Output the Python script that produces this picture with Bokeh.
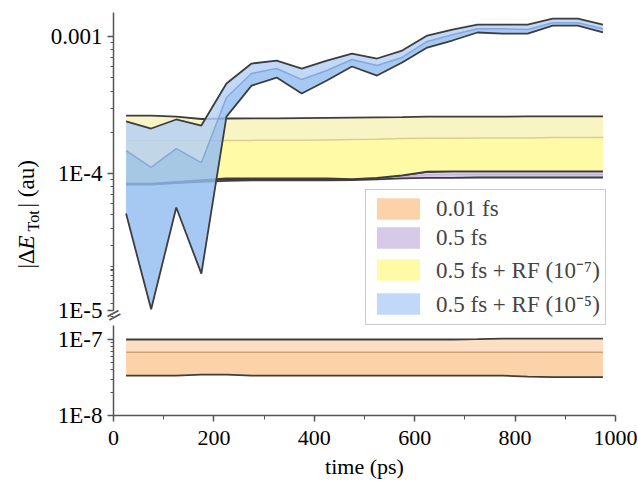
import math
from bokeh.plotting import figure
from bokeh.models import (Range1d, FixedTicker, CustomJSTickFormatter, Label,
                          Legend, LegendItem, LogAxis, LogScale)
from bokeh.embed import file_html
from bokeh.resources import INLINE

# ---------------- data ----------------
time_ps = [25, 75, 125, 175, 225, 275, 325, 375, 425, 475,
           525, 575, 625, 675, 725, 775, 825, 875, 925, 975]

# 0.01 fs
orange_upper = [1.0e-7, 1.0e-7, 1.0e-7, 1.0e-7, 1.0e-7, 1.0e-7, 1.0e-7, 1.0e-7, 1.0e-7, 1.0e-7,
                1.0e-7, 1.0e-7, 1.0e-7, 1.0e-7, 1.01e-7, 1.03e-7, 1.03e-7, 1.03e-7, 1.03e-7, 1.03e-7]
orange_mean = [6.8e-8, 6.8e-8, 6.8e-8, 6.8e-8, 6.8e-8, 6.8e-8, 6.8e-8, 6.8e-8, 6.8e-8, 6.8e-8,
               6.8e-8, 6.8e-8, 6.8e-8, 6.8e-8, 6.8e-8, 6.8e-8, 6.8e-8, 6.8e-8, 6.8e-8, 6.8e-8]
orange_lower = [3.35e-8, 3.35e-8, 3.35e-8, 3.45e-8, 3.45e-8, 3.35e-8, 3.35e-8, 3.35e-8, 3.35e-8, 3.35e-8,
                3.35e-8, 3.35e-8, 3.35e-8, 3.35e-8, 3.35e-8, 3.35e-8, 3.25e-8, 3.2e-8, 3.2e-8, 3.2e-8]

# 0.5 fs
purple_upper = [8.4e-5, 8.4e-5, 8.6e-5, 8.85e-5, 9.1e-5, 9.1e-5, 9.1e-5, 9.1e-5, 9.1e-5, 9.1e-5,
                9.3e-5, 9.7e-5, 1.03e-4, 1.035e-4, 1.035e-4, 1.035e-4, 1.035e-4, 1.035e-4, 1.035e-4, 1.035e-4]
purple_mean = [8.35e-5, 8.35e-5, 8.55e-5, 8.75e-5, 8.95e-5, 9.0e-5, 9.0e-5, 9.0e-5, 9.0e-5, 9.02e-5,
               9.15e-5, 9.45e-5, 9.8e-5, 9.85e-5, 9.85e-5, 9.85e-5, 9.85e-5, 9.85e-5, 9.85e-5, 9.85e-5]
purple_lower = [8.3e-5, 8.3e-5, 8.5e-5, 8.7e-5, 8.85e-5, 8.9e-5, 8.9e-5, 8.9e-5, 8.9e-5, 8.95e-5,
                9.05e-5, 9.2e-5, 9.3e-5, 9.3e-5, 9.35e-5, 9.35e-5, 9.35e-5, 9.35e-5, 9.35e-5, 9.35e-5]

# 0.5 fs + RF (1e-7)
yellow_upper = [2.65e-4, 2.65e-4, 2.6e-4, 2.5e-4, 2.52e-4, 2.53e-4, 2.53e-4, 2.54e-4, 2.55e-4, 2.56e-4,
                2.57e-4, 2.58e-4, 2.6e-4, 2.6e-4, 2.6e-4, 2.6e-4, 2.61e-4, 2.61e-4, 2.61e-4, 2.61e-4]
yellow_mean = [1.74e-4, 1.74e-4, 1.74e-4, 1.74e-4, 1.74e-4, 1.745e-4, 1.75e-4, 1.75e-4, 1.76e-4, 1.77e-4,
               1.78e-4, 1.8e-4, 1.81e-4, 1.81e-4, 1.82e-4, 1.82e-4, 1.82e-4, 1.83e-4, 1.83e-4, 1.83e-4]
yellow_lower = [8.45e-5, 8.45e-5, 8.7e-5, 8.95e-5, 9.2e-5, 9.2e-5, 9.2e-5, 9.2e-5, 9.2e-5, 9.1e-5,
                9.3e-5, 9.7e-5, 1.03e-4, 1.035e-4, 1.035e-4, 1.035e-4, 1.035e-4, 1.035e-4, 1.035e-4, 1.035e-4]

# 0.5 fs + RF (1e-5)
blue_upper = [2.40e-4, 2.13e-4, 2.48e-4, 2.24e-4, 4.54e-4, 6.35e-4, 6.68e-4, 5.84e-4, 6.68e-4, 7.51e-4,
              6.91e-4, 7.9e-4, 1.017e-3, 1.125e-3, 1.22e-3, 1.22e-3, 1.22e-3, 1.35e-3, 1.35e-3, 1.22e-3]
blue_mean = [1.47e-4, 1.11e-4, 1.52e-4, 1.20e-4, 3.59e-4, 5.37e-4, 5.84e-4, 4.85e-4, 5.65e-4, 6.79e-4,
             6.14e-4, 7.03e-4, 9.2e-4, 1.03e-3, 1.14e-3, 1.14e-3, 1.125e-3, 1.26e-3, 1.26e-3, 1.14e-3]
blue_lower = [5.1e-5, 1.02e-5, 5.65e-5, 1.86e-5, 2.6e-4, 4.38e-4, 5.02e-4, 3.84e-4, 4.77e-4, 6.04e-4,
              5.19e-4, 6.46e-4, 8.31e-4, 9.35e-4, 1.07e-3, 1.05e-3, 1.05e-3, 1.2e-3, 1.2e-3, 1.07e-3]

legend_labels = ["0.01 fs", "0.5 fs", "0.5 fs + RF (10\u207b\u2077)", "0.5 fs + RF (10\u207b\u2075)"]

x_ticks = [0, 200, 400, 600, 800, 1000]
x_minor_ticks = [100, 300, 500, 700, 900]
upper_ticks = [1e-5, 1e-4, 1e-3]
lower_ticks = [1e-8, 1e-7]
upper_axis_bounds = (1e-5, 1.5e-3)
lower_axis_bounds = (1e-8, 1.53e-7)
x_axis_bounds = (0, 1000)

# view ranges (layout of the broken axis: both panels share one frame covering the page)
X_VIEW = (-225.1, 1045.8)
UPPER_VIEW = (5.552e-7, 1.832e-3)
LOWER_VIEW = (1.314e-9, 2.888e-3)

# ---------------- style ----------------
FONT = "Liberation Serif"
EDGE = "#3d3d3d"
AXIS = "#555555"
FRAME_H = 482

fmt = CustomJSTickFormatter(code="""
const e = Math.round(Math.log10(tick));
return e == -3 ? '0.001' : '1E' + e;
""")


def minor_for(ticks):
    return [m * t for t in ticks for m in range(2, 10)]


p = figure(frame_width=638, frame_height=FRAME_H,
           x_range=Range1d(*X_VIEW), y_range=Range1d(*LOWER_VIEW), y_axis_type="log",
           y_axis_location=None, output_backend="svg", toolbar_location=None,
           min_border_left=0, min_border_right=0, min_border_top=0, min_border_bottom=0,
           outline_line_color=None)
p.extra_y_ranges = {"upper": Range1d(*UPPER_VIEW)}
p.extra_y_scales = {"upper": LogScale()}
p.xgrid.visible = False
p.ygrid.visible = False


def make_yaxis(ticks, bounds, range_name=None):
    kw = {} if range_name is None else {"y_range_name": range_name}
    ax = LogAxis(fixed_location=0, bounds=bounds, **kw)
    ax.ticker = FixedTicker(ticks=ticks, minor_ticks=minor_for(ticks))
    ax.formatter = fmt
    ax.major_label_text_font = FONT
    ax.major_label_text_font_size = "23px"
    ax.major_label_text_color = "black"
    ax.axis_line_color = AXIS
    ax.axis_line_width = 1.5
    ax.major_tick_line_color = AXIS
    ax.minor_tick_line_color = AXIS
    ax.major_tick_line_width = 1.5
    ax.major_tick_out = 6
    ax.major_tick_in = 0
    ax.minor_tick_out = 3
    ax.minor_tick_in = 0
    ax.major_label_standoff = 5
    p.add_layout(ax, "left")
    return ax


make_yaxis(upper_ticks, upper_axis_bounds, "upper")
make_yaxis(lower_ticks, lower_axis_bounds)


def band(lower, mean, upper, c_low, c_up, alpha, mean_color, rng="default"):
    r_low = p.varea(x=time_ps, y1=lower, y2=mean, fill_color=c_low, fill_alpha=alpha, y_range_name=rng)
    r_up = p.varea(x=time_ps, y1=mean, y2=upper, fill_color=c_up, fill_alpha=alpha, y_range_name=rng)
    p.line(time_ps, mean, line_color=mean_color, line_width=1.5, y_range_name=rng)
    p.line(time_ps, lower, line_color=EDGE, line_width=1.8, y_range_name=rng)
    p.line(time_ps, upper, line_color=EDGE, line_width=1.8, y_range_name=rng)
    return r_low, r_up


o_low, o_up = band(orange_lower, orange_mean, orange_upper, "#fcd3a8", "#fde0c4", 1.0, "#c9a27a")
pu_low, pu_up = band(purple_lower, purple_mean, purple_upper, "#d6cae8", "#ddd3ec", 1.0, "#c4b6dc", "upper")
y_low, y_up = band(yellow_lower, yellow_mean, yellow_upper, "#fffaa6", "#f8f4c4", 1.0, "#d8d08c", "upper")
b_low, b_up = band(blue_lower, blue_mean, blue_upper, "#93bdf2", "#b3cff6", 0.82, "#86a8d8", "upper")

# x axis, fixed at the bottom of the lower panel
xa = p.xaxis[0]
xa.fixed_location = lower_ticks[0]
xa.bounds = x_axis_bounds
xa.ticker = FixedTicker(ticks=x_ticks, minor_ticks=x_minor_ticks)
xa.axis_label = "time (ps)"
xa.axis_label_text_font = FONT
xa.axis_label_text_font_size = "22px"
xa.axis_label_text_font_style = "normal"
xa.axis_label_text_color = "black"
xa.axis_label_standoff = 6
xa.major_label_text_font = FONT
xa.major_label_text_font_size = "22px"
xa.major_label_text_color = "black"
xa.major_label_standoff = 9
xa.axis_line_color = AXIS
xa.axis_line_width = 1.5
xa.major_tick_line_color = AXIS
xa.minor_tick_line_color = AXIS
xa.major_tick_line_width = 1.5
xa.major_tick_out = 6
xa.major_tick_in = 0
xa.minor_tick_out = 4
xa.minor_tick_in = 0

# legend
legend = Legend(items=[LegendItem(label=legend_labels[0], renderers=[o_low]),
                       LegendItem(label=legend_labels[1], renderers=[pu_low]),
                       LegendItem(label=legend_labels[2], renderers=[y_low]),
                       LegendItem(label=legend_labels[3], renderers=[b_up])],
                location=(365, FRAME_H - 325), glyph_width=54, glyph_height=27, label_height=27,
                label_standoff=11, spacing=2, padding=5, margin=0,
                border_line_color="#9a9a9a", border_line_width=1,
                background_fill_color="white", background_fill_alpha=1.0,
                label_text_font=FONT, label_text_font_size="23px")
p.add_layout(legend)

# y-axis title, built from parts (rotated) -- positions relative to frame bottom-left
title_parts = [("|\u0394", "normal", "23px", 268, 0),
               ("E", "italic", "23px", 249, 0),
               ("Tot", "normal", "16px", 231, 7),
               ("| (au)", "normal", "23px", 207, 0)]
for txt, style, size, page_y, dx in title_parts:
    p.add_layout(Label(x=26 + dx, y=FRAME_H - page_y, x_units="screen", y_units="screen",
                       text=txt, angle=math.pi / 2, text_align="left", text_baseline="middle",
                       text_font=FONT, text_font_size=size, text_font_style=style,
                       text_color="black"))

# axis-break mark
p.add_layout(Label(x=113, y=FRAME_H - 314, x_units="screen", y_units="screen", text="=",
                   angle=0.5, text_align="center", text_baseline="middle",
                   text_font="DejaVu Sans", text_font_size="20px", text_color=AXIS))

open("out.html", "w").write(file_html(p, INLINE))
